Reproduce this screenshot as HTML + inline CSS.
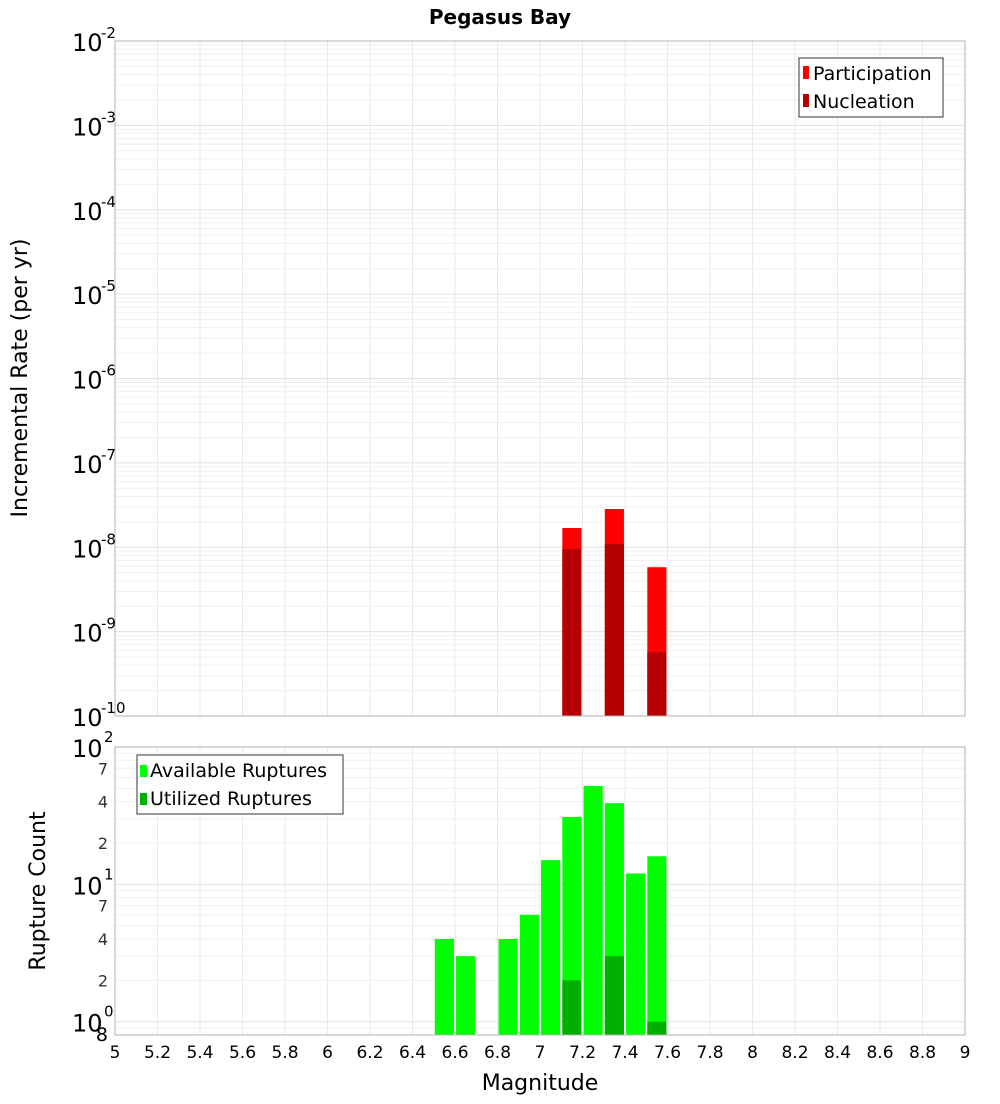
<!DOCTYPE html>
<html><head><meta charset="utf-8"><style>
body{margin:0;background:#fff;font-family:"DejaVu Sans","Liberation Sans",sans-serif;}
svg text{font-family:"DejaVu Sans","Liberation Sans",sans-serif;}
</style></head><body>
<svg id="c" width="1000" height="1100" xmlns="http://www.w3.org/2000/svg">
<text x="500" y="24" text-anchor="middle" font-size="20" font-weight="bold">Pegasus Bay</text>
<g id="gtop"></g><g id="gbot"></g>
<text x="540" y="1090" text-anchor="middle" font-size="22">Magnitude</text>
<text transform="translate(27,378) rotate(-90)" text-anchor="middle" font-size="22">Incremental Rate (per yr)</text>
<text transform="translate(45,891) rotate(-90)" text-anchor="middle" font-size="22">Rupture Count</text>
</svg>
<script>
const mags=[6.55,6.65,6.85,6.95,7.05,7.15,7.25,7.35,7.45,7.55];
const available=[4,3,4,6,15,31,52,39,12,16];
const utilized=[0,0,0,0,0,2,0,3,0,1];
const rateMags=[7.15,7.35,7.55];
const participation=[1.69e-8,2.84e-8,5.8e-9];
const nucleation=[9.5e-9,1.09e-8,5.7e-10];
const xTicks=[5,5.2,5.4,5.6,5.8,6,6.2,6.4,6.6,6.8,7,7.2,7.4,7.6,7.8,8,8.2,8.4,8.6,8.8,9];

const NS="http://www.w3.org/2000/svg";
const L=115,R=965;
const xs=m=>L+(m-5)/4*(R-L);
const T1=41,B1=716;
const y1=v=>T1+(-2-Math.log10(v))/8*(B1-T1);
const T2=747,B2=1035,lmin=Math.log10(0.8);
const y2=v=>B2-(Math.log10(v)-lmin)/(2-lmin)*(B2-T2);
function mk(tag,a,p){const e=document.createElementNS(NS,tag);for(const k in a)e.setAttribute(k,a[k]);(p||document.getElementById('c')).appendChild(e);return e;}
const gTop=document.getElementById('gtop'),gBot=document.getElementById('gbot');
function grid(g,T,B,yf,decs){
  for(let m=5;m<=9.001;m+=0.2){const gl=mk('line',{x1:xs(m),x2:xs(m),y1:T,y2:B,stroke:'#e8e8e8'},g);
  
  }
  decs.forEach(d=>{for(let k=1;k<10;k++){const v=k*Math.pow(10,d);const y=yf(v);if(y<T-0.5||y>B+0.5)continue;const gl=mk('line',{x1:L,x2:R,y1:y,y2:y,stroke:k==1?'#e0e0e0':'#efefef'},g);
  
  }});
}
grid(gTop,T1,B1,y1,[-10,-9,-8,-7,-6,-5,-4,-3,-2]);
grid(gBot,T2,B2,y2,[-1,0,1,2]);
const bw=0.09*(R-L)/4;
rateMags.forEach((m,i)=>{
  const p=mk('rect',{x:xs(m)-bw/2,y:y1(participation[i]),width:bw,height:B1-y1(participation[i]),fill:'#ff0000'},gTop);
  
  
  const n=mk('rect',{x:xs(m)-bw/2,y:y1(nucleation[i]),width:bw,height:B1-y1(nucleation[i]),fill:'#b40000'},gTop);
  
  
});
mags.forEach((m,i)=>{
  const a=mk('rect',{x:xs(m)-bw/2,y:y2(available[i]),width:bw,height:B2-y2(available[i]),fill:'#00ff00'},gBot);
  
  
  if(utilized[i]>0){const u=mk('rect',{x:xs(m)-bw/2,y:y2(utilized[i]),width:bw,height:B2-y2(utilized[i]),fill:'#00b000'},gBot);
  
  }
});
const f1=mk('rect',{x:L,y:T1,width:R-L,height:B1-T1,fill:'none',stroke:'#b0b0b0'},gTop);


const f2=mk('rect',{x:L,y:T2,width:R-L,height:B2-T2,fill:'none',stroke:'#b0b0b0'},gBot);


for(let d=-2;d>=-10;d--){const y=y1(Math.pow(10,d));
  const t=mk('text',{x:72,y:y+10,'font-size':24},gTop);t.textContent='10';
  
  
  const s=mk('text',{x:101,y:y-3,'font-size':15},gTop);s.textContent=String(d);
  
  }
[[100,'2'],[10,'1'],[1,'0']].forEach(([v,e])=>{const y=y2(v);
  const t=mk('text',{x:72,y:y+10,'font-size':24},gBot);t.textContent='10';
  
  
  const s=mk('text',{x:104,y:y-5,'font-size':15},gBot);s.textContent=e;
  
  });
[[70,'7'],[40,'4'],[20,'2'],[7,'7'],[4,'4'],[2,'2'],[0.8,'8']].forEach(([v,l])=>{
  const t=mk('text',{x:108,y:y2(v)+6,'font-size':v==0.8?19:16,'text-anchor':'end',fill:v==0.8?'#000':'#333'},gBot);t.textContent=l;
  
  });
xTicks.forEach(m=>{const t=mk('text',{x:xs(m),y:1058,'font-size':17,'text-anchor':'middle'});t.textContent=String(m);
  
  });
</script>
<svg style="position:absolute;left:0;top:0" width="1000" height="1100" xmlns="http://www.w3.org/2000/svg">
<g>
<rect x="799" y="58" width="144" height="59" fill="#fff" stroke="#333"/>
<rect x="803" y="66" width="6" height="13" fill="#ff0000"/>
<text x="813" y="80" font-size="19">Participation</text>
<rect x="803" y="94" width="6" height="13" fill="#b40000"/>
<text x="813" y="108" font-size="19">Nucleation</text>
</g>
<g>
<rect x="137" y="755" width="206" height="59" fill="#fff" stroke="#333"/>
<rect x="140" y="765" width="7" height="12" fill="#00ff00"/>
<text x="150" y="777" font-size="19">Available Ruptures</text>
<rect x="140" y="793" width="7" height="12" fill="#00b000"/>
<text x="150" y="805" font-size="19">Utilized Ruptures</text>
</g>
</svg>
</body></html>
